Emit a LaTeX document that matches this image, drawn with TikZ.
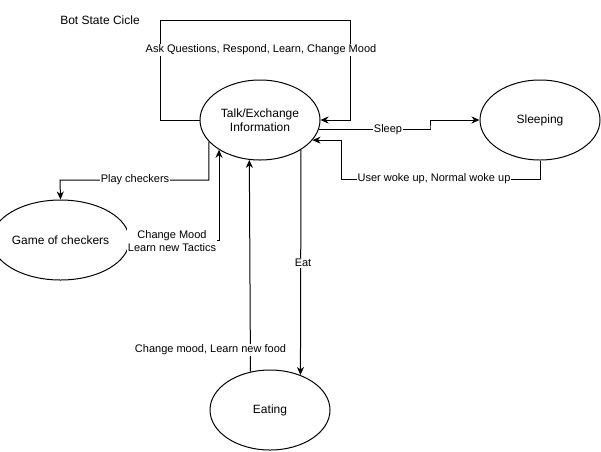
\documentclass[tikz,border=0pt]{standalone}
\usepackage{fontspec}
\setmainfont{Liberation Sans}
\usetikzlibrary{arrows.meta,shapes.geometric}
\begin{document}
\begin{tikzpicture}[x=1pt,y=-1pt,
  state/.style={ellipse,draw,line width=1pt,minimum width=120pt,minimum height=80pt,inner sep=0pt,align=center,font=\fontsize{12}{14}\selectfont},
  conn/.style={draw,line width=1pt,-{Stealth[length=8pt,width=7pt,inset=2.5pt]}},
  plain/.style={draw,line width=1pt},
  lbl/.style={fill=white,inner sep=1pt,align=center,font=\fontsize{11}{13}\selectfont}]
\useasboundingbox (0,0) rectangle (601,451);
\node[state] (talk) at (260,120) {Talk/Exchange\\Information};
\node[state] (sleeping) at (540,120) {Sleeping};
\node[state] (checkers) at (60.5,240) {Game of checkers};
\node[state] (eating) at (270,410) {Eating};
\node[font=\fontsize{12}{14}\selectfont] (title) at (100,20) {Bot State Cicle};
\coordinate (loopL) at (160,20);
\coordinate (loopR) at (350,20);
\coordinate (sleepB) at (430,130);
\coordinate (wakeB) at (341,179);
\coordinate (playB) at (60,180);
% self loop
\draw[conn] (talk.west) -| (loopL) -| (loopR) |- (talk.east);
\node[lbl] (lAsk) at (261,50) {Ask Questions, Respond, Learn, Change Mood};
% sleep
\draw[conn] (talk.-9.77) -| (sleepB) |- (sleeping.west);
\node[lbl] (lSleep) at (388,130) {Sleep};
% wake
\draw[conn] (sleeping.south) |- (wakeB) |- (talk.-21.05);
\node[lbl] (lWake) at (434,179) {User woke up, Normal woke up};
% play checkers
\draw[conn] (talk.203.85) |- (playB) -- (checkers.north);
\node[lbl] (lPlay) at (135,180) {Play checkers};
% change mood tactics
\draw[conn] (checkers.east) -| (talk.216.7);
\node[lbl] (lTac) at (172,241) {Change Mood\\Learn new Tactics};
% eat
\draw[conn] (talk.-36.7) -- (eating.49.1);
\node[lbl] (lEat) at (303,263) {Eat};
% food
\draw[conn] (eating.117.9) -- (talk.255.77);
\node[lbl] (lFood) at (210.5,350) {Change mood, Learn new food};
\end{tikzpicture}
\end{document}
